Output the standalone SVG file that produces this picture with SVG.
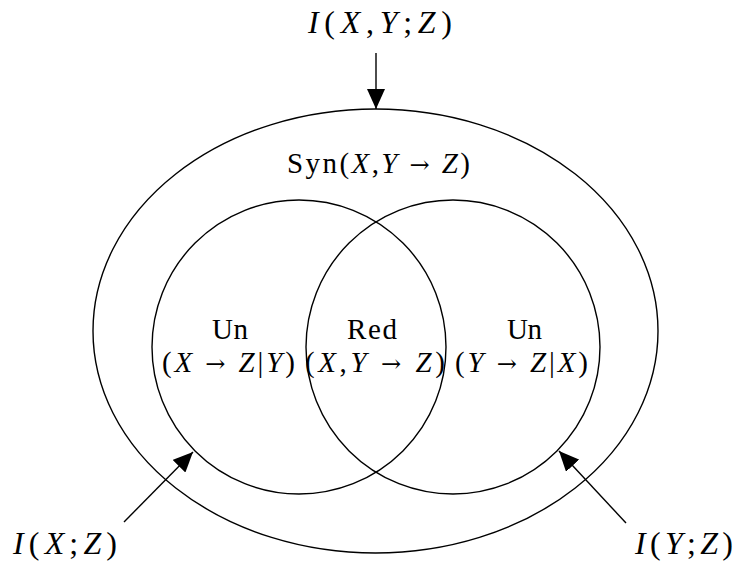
<svg xmlns="http://www.w3.org/2000/svg" width="738" height="569" viewBox="0 0 738 569">
<style>
.sh{fill:none;stroke:#000;stroke-width:1.4}
.t{font-family:"Liberation Serif","DejaVu Serif",serif;font-size:29px;fill:#000}
.l{font-size:32px}
.i{font-style:italic}
.a{font-family:"DejaVu Serif",serif;font-size:24px}
</style>
<defs>
<marker id="ah" markerUnits="userSpaceOnUse" markerWidth="20" markerHeight="18" refX="20" refY="9" orient="auto">
<polygon points="0,0 20,9 0,18" fill="#000"/>
</marker>
</defs>
<rect width="738" height="569" fill="#fff"/>
<g id="outer"><ellipse class="sh" cx="375.5" cy="331" rx="282.5" ry="222"/>
<text class="t" x="287" y="173" textLength="183" lengthAdjust="spacing">Syn(<tspan class="i">X</tspan>,<tspan class="i">Y</tspan> <tspan class="a">→</tspan> <tspan class="i">Z</tspan>)</text></g>
<g id="left"><circle class="sh" cx="299" cy="347" r="147"/>
<text class="t" x="212" y="339" textLength="36" lengthAdjust="spacing">Un</text>
<text class="t" x="162" y="372" textLength="133" lengthAdjust="spacing">(<tspan class="i">X</tspan> <tspan class="a">→</tspan> <tspan class="i">Z</tspan>|<tspan class="i">Y</tspan>)</text></g>
<g id="right"><circle class="sh" cx="453" cy="347" r="147"/>
<text class="t" x="507" y="339" textLength="35" lengthAdjust="spacing">Un</text>
<text class="t" x="455" y="372" textLength="133" lengthAdjust="spacing">(<tspan class="i">Y</tspan> <tspan class="a">→</tspan> <tspan class="i">Z</tspan>|<tspan class="i">X</tspan>)</text></g>
<g id="red">
<text class="t" x="347" y="339" textLength="50" lengthAdjust="spacing">Red</text>
<text class="t" x="305" y="372" textLength="140" lengthAdjust="spacing">(<tspan class="i">X</tspan>,<tspan class="i">Y</tspan> <tspan class="a">→</tspan> <tspan class="i">Z</tspan>)</text></g>
<g id="lbl-top"><text class="t l" x="308" y="33" textLength="144" lengthAdjust="spacing"><tspan class="i">I</tspan>(<tspan class="i">X</tspan>,<tspan class="i">Y</tspan>;<tspan class="i">Z</tspan>)</text></g>
<g id="lbl-left"><text class="t l" x="13" y="554" textLength="104" lengthAdjust="spacing"><tspan class="i">I</tspan>(<tspan class="i">X</tspan>;<tspan class="i">Z</tspan>)</text></g>
<g id="lbl-right"><text class="t l" x="635" y="554" textLength="98" lengthAdjust="spacing"><tspan class="i">I</tspan>(<tspan class="i">Y</tspan>;<tspan class="i">Z</tspan>)</text></g>
<g id="connectors">
<line class="sh" x1="376" y1="53" x2="376" y2="109" marker-end="url(#ah)"/>
<line class="sh" x1="124" y1="522" x2="193" y2="452" marker-end="url(#ah)"/>
<line class="sh" x1="626" y1="523" x2="559" y2="451" marker-end="url(#ah)"/>
</g>
</svg>
